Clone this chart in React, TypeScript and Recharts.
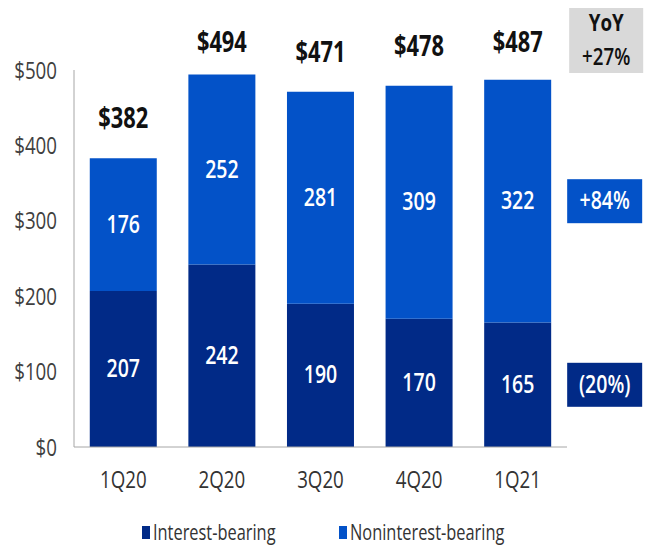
import React from 'react';
import { BarChart, Bar, XAxis, YAxis, Legend, LabelList } from 'recharts';

const quarters = ['1Q20', '2Q20', '3Q20', '4Q20', '1Q21'];
const interestBearing = [207, 242, 190, 170, 165];
const noninterestBearing = [176, 252, 281, 309, 322];
const totals = [382, 494, 471, 478, 487];
const yoyTotal = '+27%';
const yoyNoninterest = '+84%';
const yoyInterest = '(20%)';
const yTicks = [0, 100, 200, 300, 400, 500];

const NAVY = '#012a87';
const BLUE = '#0352c8';
const FONT = "'Open Sans', 'Noto Sans', sans-serif";
const SX = 0.78; // squeeze text horizontally, the original uses a condensed face

const data = quarters.map((q, i) => ({
  name: q,
  interest: interestBearing[i],
  noninterest: noninterestBearing[i],
  total: totals[i],
}));

const last = quarters.length - 1;

// text drawn condensed around its anchor point
const NarrowText = ({ x, y, anchor = 'middle', dy = 0, size, fill, weight = 'normal', children }: any) => (
  <text
    transform={`translate(${x},${y}) scale(${SX},1)`}
    x={0}
    y={0}
    dy={dy}
    textAnchor={anchor}
    fill={fill}
    fontSize={size}
    fontWeight={weight}
    fontFamily={FONT}
  >
    {children}
  </text>
);

const XTick = (props: any) => {
  const { x, y, payload } = props;
  return <NarrowText x={x} y={y} dy="0.71em" size={24} fill="#333">{payload.value}</NarrowText>;
};

const YTick = (props: any) => {
  const { x, y, payload } = props;
  return <NarrowText x={x} y={y} dy="0.36em" anchor="end" size={24} fill="#404040">{`$${payload.value}`}</NarrowText>;
};

// white numbers inside the segments, plus the YoY box beside the last bar
const SegmentLabel = (fill: string, yoy: string) => (props: any) => {
  const { x, y, width, height, value, index } = props;
  const cx = x + width / 2;
  const cy = y + height / 2;
  return (
    <g>
      <NarrowText x={cx} y={cy} dy={8} size={25} fill="#fff" weight={600}>{value}</NarrowText>
      {index === last && (
        <g>
          <rect x={x + width + 16} y={cy - 22} width={75} height={44} fill={fill} />
          <NarrowText x={x + width + 53.5} y={cy} dy={8} size={25} fill="#fff" weight={600}>{yoy}</NarrowText>
        </g>
      )}
    </g>
  );
};

const TotalLabel = (props: any) => {
  const { x, y, width, value, index } = props;
  const cy = Math.max(y - 40, 42);
  return (
    <g>
      <NarrowText x={x + width / 2} y={cy} dy={10} size={28} fill="#111" weight="bold">{`$${value}`}</NarrowText>
      {index === last && (
        <g>
          <rect x={x + width + 18} y={8} width={74} height={65} fill="#d9d9d9" />
          <NarrowText x={x + width + 55} y={23} dy={8} size={24} fill="#111" weight="bold">YoY</NarrowText>
          <NarrowText x={x + width + 55} y={57} dy={8} size={24} fill="#111" weight={600}>{yoyTotal}</NarrowText>
        </g>
      )}
    </g>
  );
};

const legendItems = [
  { name: 'Interest-bearing', color: NAVY },
  { name: 'Noninterest-bearing', color: BLUE },
];

const LegendContent = () => (
  <svg width={647} height={60} style={{ display: 'block' }}>
    {legendItems.map((item, i) => {
      const x0 = i === 0 ? 142 : 339;
      return (
        <g key={item.name}>
          <rect x={x0} y={38} width={8} height={13} fill={item.color} />
          <NarrowText x={x0 + 11} y={44} dy="0.36em" anchor="start" size={21} fill="#333">{item.name}</NarrowText>
        </g>
      );
    })}
  </svg>
);

export default function App() {
  return (
    <div style={{ position: 'absolute', left: 0, top: 0, width: 647, height: 548, background: '#fff' }}>
      <BarChart width={647} height={548} data={data} margin={{ top: 70, right: 80, left: 0, bottom: 0 }} barCategoryGap="16%">
        <XAxis
          dataKey="name"
          height={41}
          tickLine={false}
          tickMargin={18}
          axisLine={{ stroke: '#a6a6a6' }}
          tick={<XTick />}
        />
        <YAxis
          width={74}
          domain={[0, 500]}
          ticks={yTicks}
          tickLine={false}
          tickMargin={11}
          axisLine={{ stroke: '#a6a6a6' }}
          tick={<YTick />}
        />
        <Legend verticalAlign="bottom" height={60} content={<LegendContent />} wrapperStyle={{ left: 0, width: 647 }} />
        <Bar dataKey="interest" name="Interest-bearing" stackId="a" fill={NAVY} isAnimationActive={false}>
          <LabelList dataKey="interest" content={SegmentLabel(NAVY, yoyInterest)} />
        </Bar>
        <Bar dataKey="noninterest" name="Noninterest-bearing" stackId="a" fill={BLUE} isAnimationActive={false}>
          <LabelList dataKey="noninterest" content={SegmentLabel(BLUE, yoyNoninterest)} />
          <LabelList dataKey="total" content={TotalLabel} />
        </Bar>
      </BarChart>
    </div>
  );
}
